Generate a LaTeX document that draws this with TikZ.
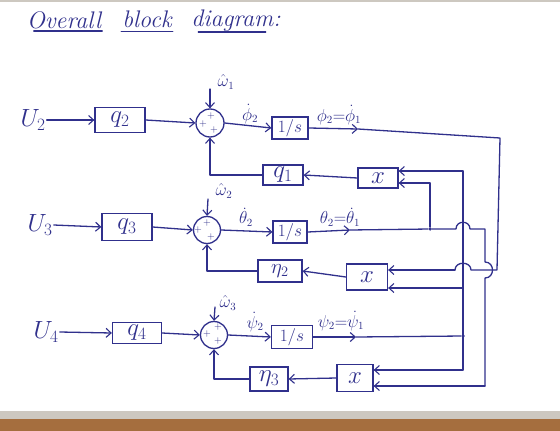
\documentclass[tikz,border=0pt]{standalone}
\usetikzlibrary{arrows.meta}
\definecolor{ink}{RGB}{48,48,140}
\definecolor{cork}{RGB}{165,110,62}
\definecolor{edge}{RGB}{205,200,192}
\tikzset{
  wire/.style={draw=ink, line width=1.3pt, line cap=round, line join=round},
  arr/.style={wire, -{Straight Barb[length=5pt,width=9pt,line width=1.1pt]}},
  blk/.style={draw=ink, line width=1.3pt, rectangle, inner sep=0pt, text=ink, font=\fontsize{23}{26}\selectfont},
  intg/.style={blk, font=\fontsize{17}{20}\selectfont},
  mult/.style={blk, font=\fontsize{26}{28}\selectfont},
  sumj/.style={draw=ink, line width=1.3pt, circle, inner sep=0pt},
  lab/.style={text=ink, inner sep=0.5pt, font=\fontsize{16}{19}\selectfont},
  big/.style={text=ink, inner sep=1pt, font=\fontsize{23}{26}\selectfont},
  ttl/.style={text=ink, inner sep=1pt, font=\fontsize{24}{28}\selectfont\itshape},
  sgn/.style={text=ink, inner sep=0pt, font=\fontsize{10}{11}\selectfont},
  jdot/.style={circle, fill=ink, inner sep=0pt, minimum size=3.5pt},
}
\begin{document}
\begin{tikzpicture}[x=1pt,y=-1pt]
\fill[white] (0,0) rectangle (560,431);
\fill[edge] (0,0) rectangle (560,2);
\fill[edge] (0,411) rectangle (560,419);
\fill[cork] (0,419) rectangle (560,431);
\useasboundingbox (0,0) rectangle (560,431);

% title
\node[ttl] (t1) at (64,20) {Overall};
\node[ttl] (t2) at (147,19) {block};
\node[ttl] (t3) at (236,21) {diagram:};
\draw[wire] ([xshift=8pt,yshift=-1pt]t1.south west) -- ([yshift=-1pt]t1.south east);
\draw[wire] ([yshift=-3pt]t2.south west) -- ([yshift=-3pt]t2.south east);
\draw[wire] ([xshift=8pt,yshift=1pt]t3.south west) -- ([xshift=-16pt,yshift=1pt]t3.south east);

% ---------- row 1
\node[big] (u2) at (33,120) {$U_2$};
\node[blk, minimum width=50, minimum height=25] (q2) at (120,120) {$q_2$};
\node[sumj, minimum size=28] (s1) at (210,123) {};
\node[sgn] (s1a) at (211,116) {+};
\node[sgn] (s1b) at (203,124) {+};
\node[sgn] (s1c) at (214,130) {+};
\node[lab] (w1) at (226,82) {$\hat{\omega}_1$};
\coordinate (w1s) at (210,89);
\node[intg, minimum width=36, minimum height=22] (i1) at (290,128) {$1/s$};
\node[lab] (d1) at (250,114) {$\dot{\phi}_2$};
\node[lab] (o1) at (339,115) {$\phi_2{=}\dot{\phi}_1$};
\coordinate (m1) at (358,129);
\coordinate (c1) at (500,138);
\coordinate (c2) at (497,270);
\node[blk, minimum width=40, minimum height=20] (f1) at (283,175) {$q_1$};
\node[mult, minimum width=40, minimum height=20] (x1) at (378,178) {$x$};

\draw[arr] (u2.east) -- (q2.west);
\draw[arr] (q2.east) -- (s1.west);
\draw[arr] (w1s) -- (s1.north);
\draw[arr] (s1.east) -- (i1.west);
\draw[arr] (i1.east) -- (m1);
\draw[arr] (x1.west) -- (f1.east);
\draw[arr] (f1.west) -- (f1.west -| s1.south) -- (s1.south);

% ---------- row 2
\node[big] (u3) at (40,225) {$U_3$};
\node[blk, minimum width=50, minimum height=27] (q3) at (127,227) {$q_3$};
\node[sumj, minimum size=27] (s2) at (207,230) {};
\node[sgn] (s2a) at (207,223) {+};
\node[sgn] (s2b) at (198,230) {+};
\node[sgn] (s2c) at (211,237) {+};
\node[lab] (w2) at (224,191) {$\hat{\omega}_2$};
\coordinate (w2s) at (208,199);
\node[intg, minimum width=34, minimum height=22] (i2) at (290,232) {$1/s$};
\node[lab] (d2) at (246,217) {$\dot{\theta}_2$};
\node[lab] (o2) at (340,217) {$\theta_2{=}\dot{\theta}_1$};
\coordinate (m2) at (350,230);
\node[jdot] (j2) at (430,229) {};
\node[blk, minimum width=44, minimum height=22, font=\fontsize{21}{24}\selectfont] (f2) at (280,271) {$\eta_2$};
\node[mult, minimum width=41, minimum height=26] (x2) at (367,277) {$x$};

\draw[arr] (u3.east) -- (q3.west);
\draw[arr] (q3.east) -- (s2.west);
\draw[arr] (w2s) -- (s2.north);
\draw[arr] (s2.east) -- (i2.west);
\draw[arr] (i2.east) -- (m2);
\draw[wire] (m2) -- (j2);
\draw[arr] (x2.west) -- (f2.east);
\draw[arr] (f2.west) -- (f2.west -| s2.south) -- (s2.south);

% ---------- row 3
\node[big] (u4) at (46,332) {$U_4$};
\node[blk, minimum width=49, minimum height=21] (q4) at (137,333) {$q_4$};
\node[sumj, minimum size=27] (s3) at (214,335) {};
\node[sgn] (s3a) at (218,327) {+};
\node[sgn] (s3b) at (207,334) {+};
\node[sgn] (s3c) at (218,341) {+};
\node[lab] (w3) at (228,303) {$\hat{\omega}_3$};
\coordinate (w3s) at (215,307);
\node[intg, minimum width=41, minimum height=23] (i3) at (292,337) {$1/s$};
\node[lab] (d3) at (255,322) {$\dot{\psi}_2$};
\node[lab] (o3) at (341,321) {$\psi_2{=}\dot{\psi}_1$};
\coordinate (m3) at (356,337);
\node[jdot] (j3) at (463,336) {};
\node[blk, minimum width=38, minimum height=24] (f3) at (269,379) {$\eta_3$};
\node[mult, minimum width=36, minimum height=27] (x3) at (355,378) {$x$};

\draw[arr] (u4.east) -- (q4.west);
\draw[arr] (q4.east) -- (s3.west);
\draw[arr] (w3s) -- (s3.north);
\draw[arr] (s3.east) -- (i3.west);
\draw[arr] (i3.east) -- (m3);
\draw[wire] (m3) -- (j3);
\draw[arr] (x3.west) -- (f3.east);
\draw[arr] (f3.west) -- (f3.west -| s3.south) -- (s3.south);

% ---------- cross wiring
% psi2 bus
\coordinate (p1) at (463,171);
\coordinate (p2) at (463,288);
\coordinate (p3) at (463,370);
\draw[wire] (p1) -- (p3);
\draw[arr] (p1) -- (p1 -| x1.east);
\draw[arr] (p2) -- (p2 -| x2.east);
\draw[arr] (p3) -- (p3 -| x3.east);
% theta2 bus
\coordinate (t2) at (430,183);
\coordinate (t3) at (485,386);
\draw[wire] (j2) -- (t2);
\draw[arr] (t2) -- (t2 -| x1.east);
\draw[wire] (j2) -- (456,229) .. controls (456,220) and (470,220) .. (470,229)
  -- (485,229) -- (485,262) .. controls (495,262) and (495,278) .. (485,278) -- (t3);
\draw[arr] (t3) -- (t3 -| x3.east);
% phi2 bus
\coordinate (pf) at (455,270);
\draw[wire] (m1) -- (c1) -- (c2) -- (471,270) .. controls (471,261) and (455,261) .. (pf);
\draw[arr] (pf) -- (pf -| x2.east);
\end{tikzpicture}
\end{document}
